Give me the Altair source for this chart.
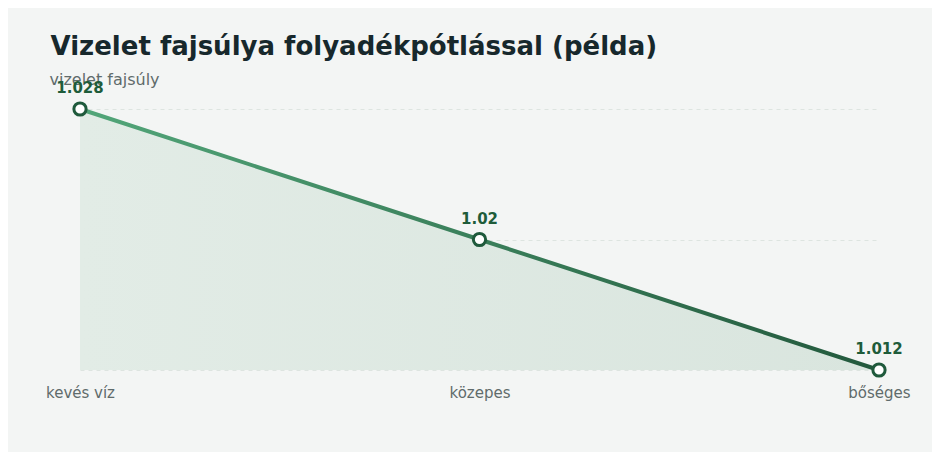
import altair as alt
import pandas as pd

categories = ["kevés víz", "közepes", "bőséges"]
values = [1.028, 1.02, 1.012]
labels = ["1.028", "1.02", "1.012"]

df = pd.DataFrame({"cat": categories, "val": values, "lab": labels})

FONT = "DejaVu Sans"

x = alt.X("cat:N", sort=categories, title=None,
          scale=alt.Scale(type="point", padding=0),
          axis=alt.Axis(labelAngle=0, domain=False, ticks=False, grid=False,
                        labelPadding=15, labelColor="#5f6b6b", labelFontSize=15,
                        labelFont=FONT))
y = alt.Y("val:Q", scale=alt.Scale(domain=[1.012, 1.028], nice=False, zero=False),
          title="vizelet fajsúly",
          axis=alt.Axis(values=[1.012, 1.02, 1.028], labels=False, ticks=False,
                        domain=False, grid=True, gridDash=[4, 4],
                        gridColor="#dde4e0", gridWidth=1,
                        titleAngle=0, titleX=-31, titleY=-25, titleAlign="left",
                        titleBaseline="alphabetic", titleFontSize=16,
                        titleFontWeight="normal", titleColor="#5f6b6b",
                        titleFont=FONT))

base = alt.Chart(df)

area = base.mark_area(
    color=alt.Gradient(gradient="linear",
                       stops=[alt.GradientStop(offset=0, color="#e2ece6"),
                              alt.GradientStop(offset=1, color="#d9e5de")],
                       x1=0, x2=1, y1=0, y2=0)
).encode(x=x, y=y, y2=alt.datum(1.012))

line = base.mark_line(
    strokeWidth=4,
    stroke=alt.Gradient(gradient="linear",
                        stops=[alt.GradientStop(offset=0, color="#52a679"),
                               alt.GradientStop(offset=1, color="#22583c")],
                        x1=0, x2=1, y1=0, y2=0)
).encode(x=x, y=y)

pts = base.mark_point(filled=True, fill="#ffffff", stroke="#1f5a3c",
                      strokeWidth=3, size=150, opacity=1).encode(x=x, y=y)

txt = base.mark_text(dy=-16, baseline="alphabetic", fontWeight="bold",
                     fontSize=15, color="#1e5c3a", font=FONT).encode(
    x=x, y=y, text="lab:N")

chart = alt.layer(area, line, pts, txt).properties(
    width=799, height=261,
    autosize=alt.AutoSizeParams(type="none"),
    padding={"left": 72, "top": 101, "right": 53, "bottom": 82},
    background="#f3f5f4",
    title=alt.TitleParams("Vizelet fajsúlya folyadékpótlással (példa)",
                          anchor="start", dx=5, fontSize=26,
                          fontWeight="bold", color="#17282c", font=FONT,
                          offset=11),
).configure_view(stroke=None)

chart.save("out.html", embed_options={"renderer": "svg", "actions": False})
